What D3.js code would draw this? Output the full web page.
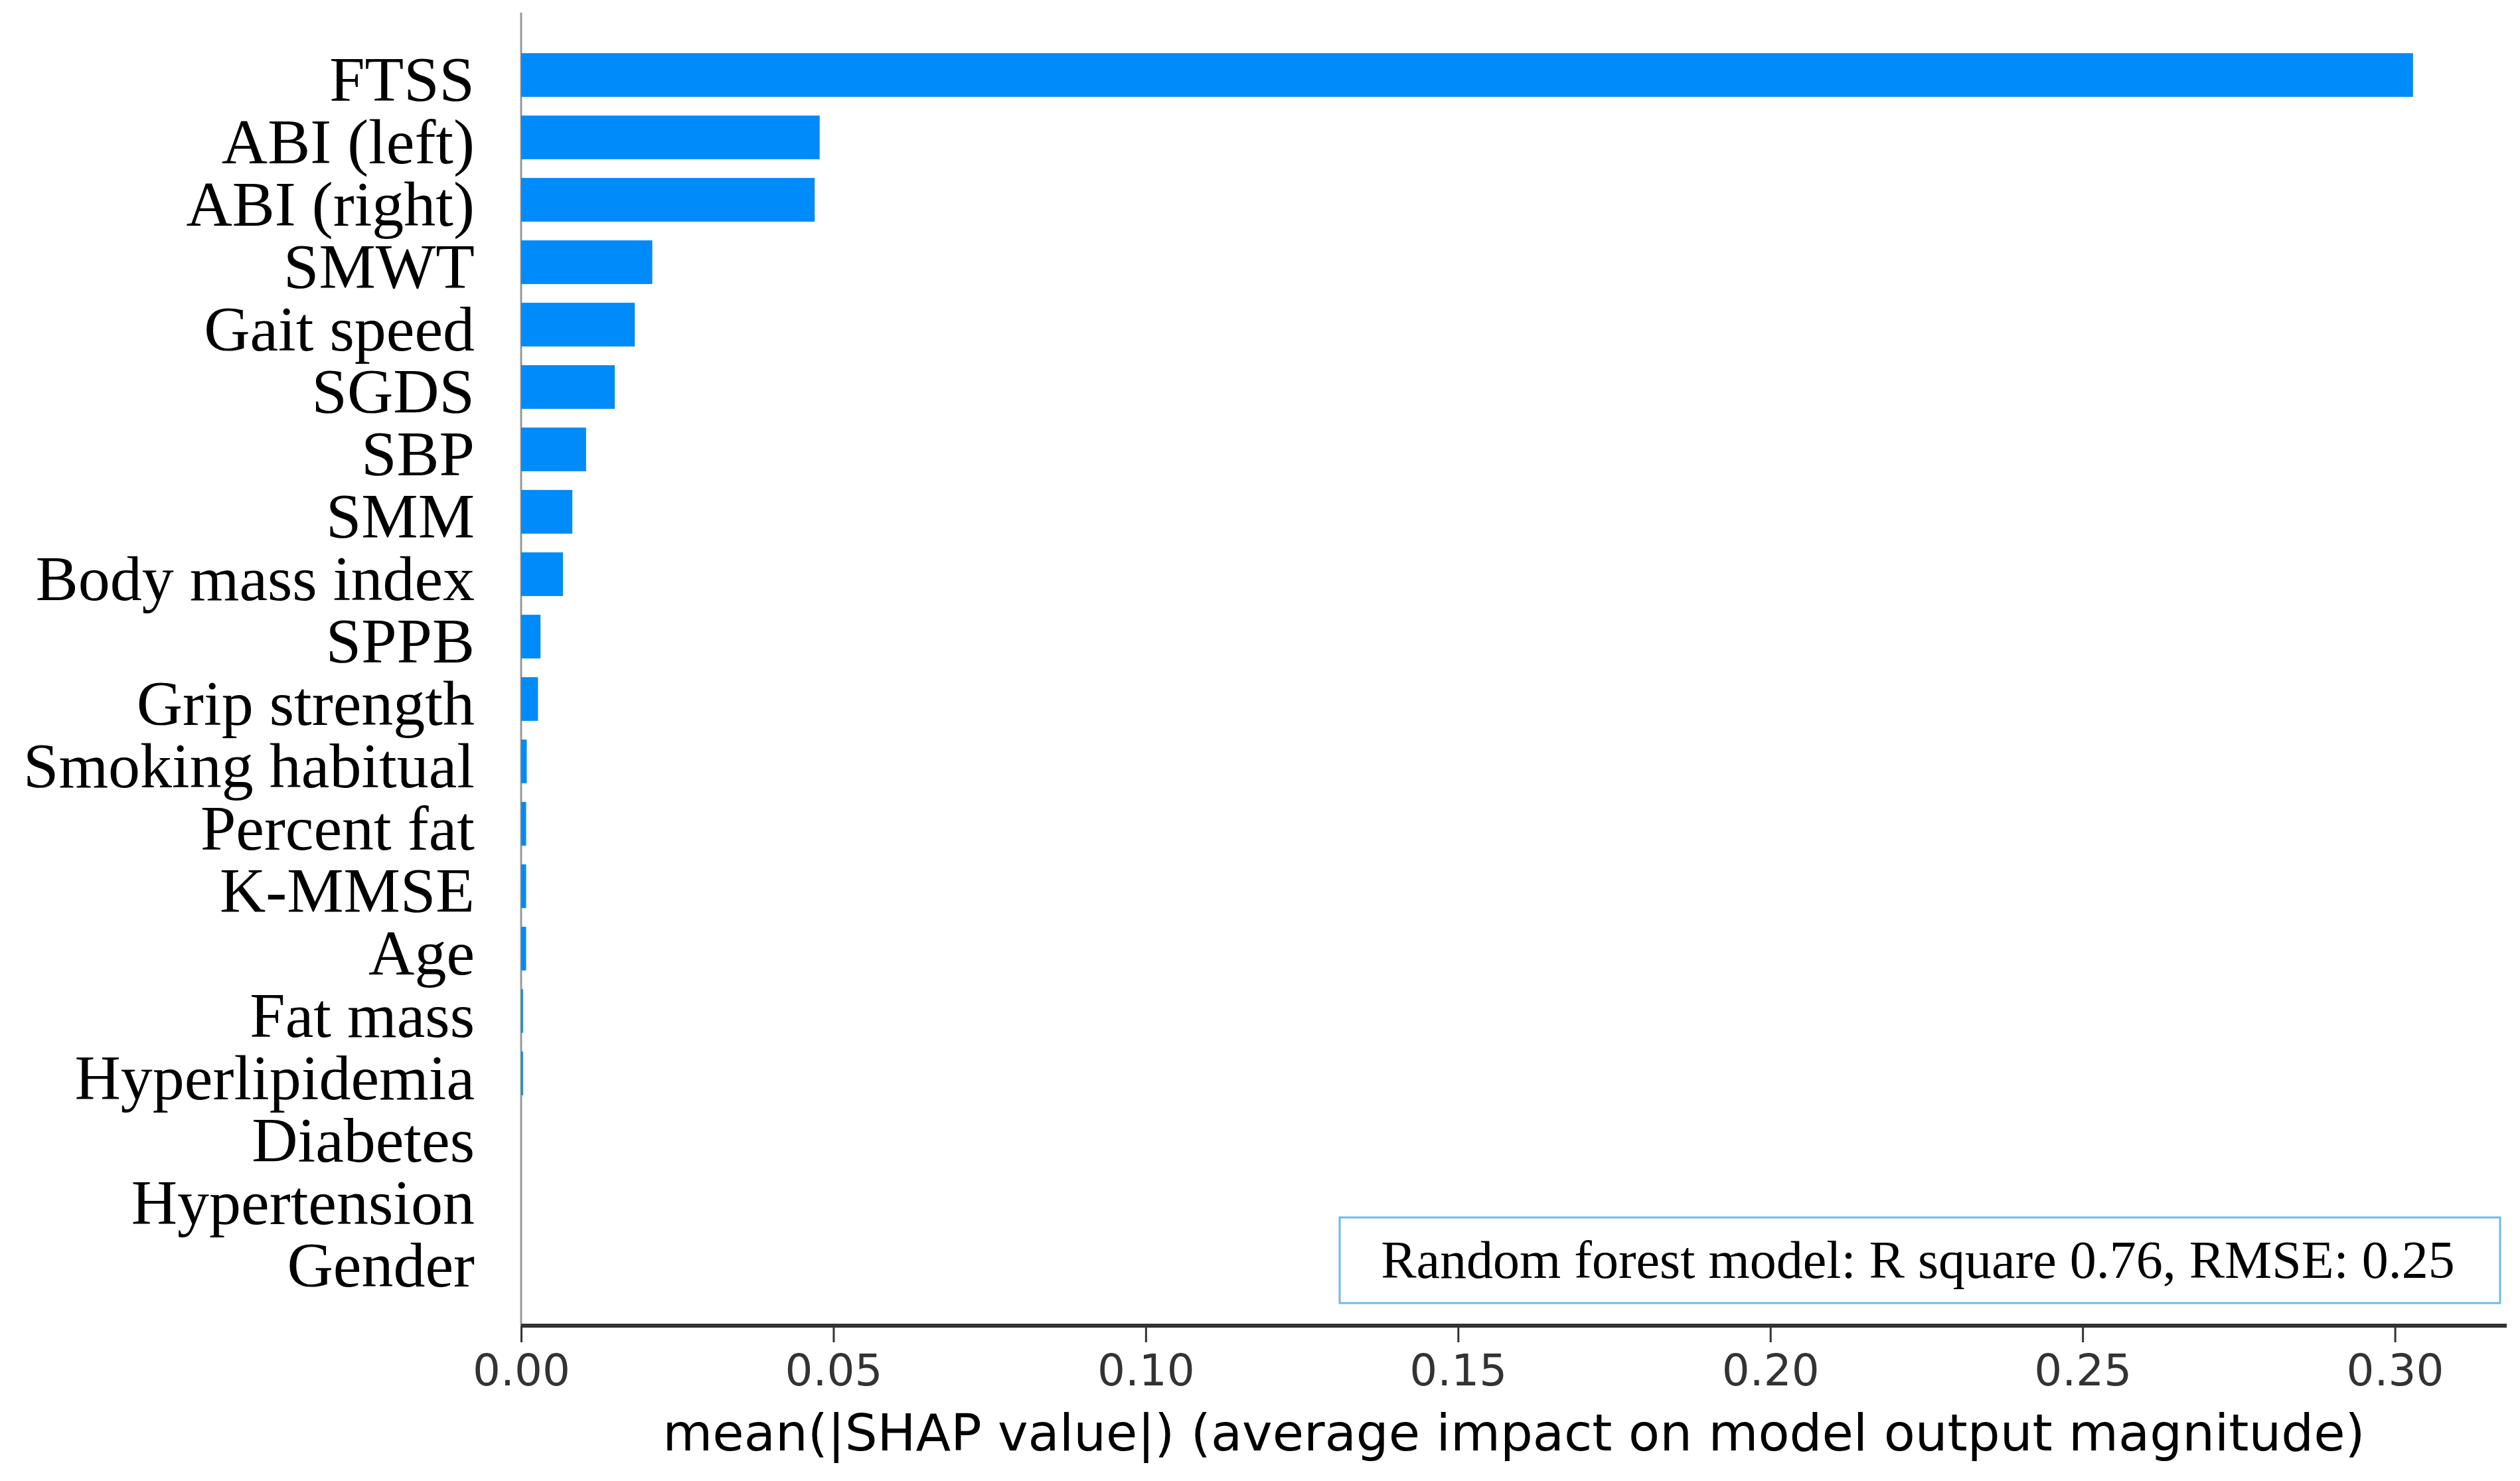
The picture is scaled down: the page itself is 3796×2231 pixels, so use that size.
<!DOCTYPE html>
<html><head><meta charset="utf-8">
<script src="https://cdn.jsdelivr.net/npm/d3@7"></script>
<style>body{margin:0;background:#fff}</style>
</head><body>
<svg id="c" width="3796" height="2231"></svg>
<script>
const categories = ["FTSS","ABI (left)","ABI (right)","SMWT","Gait speed","SGDS","SBP","SMM","Body mass index","SPPB","Grip strength","Smoking habitual","Percent fat","K-MMSE","Age","Fat mass","Hyperlipidemia","Diabetes","Hypertension","Gender"];
const values = [0.3029,0.0478,0.0470,0.0210,0.0182,0.0150,0.0104,0.0082,0.0067,0.0031,0.0027,0.0009,0.0008,0.0008,0.0008,0.0003,0.0003,0,0,0];
const xTicks = [0,0.05,0.10,0.15,0.20,0.25,0.30];
const xTitle = "mean(|SHAP value|) (average impact on model output magnitude)";
const noteText = "Random forest model: R square 0.76, RMSE: 0.25";

const svg = d3.select("#c");
const x = d3.scaleLinear().domain([0,0.3179]).range([785,3776]);
const y = d3.scaleBand().domain(categories).range([66,1946]).paddingInner(0.3).paddingOuter(0.15);
const axisY = 1997;

// left reference line
svg.append("line").attr("x1",x(0)).attr("x2",x(0)).attr("y1",19).attr("y2",axisY)
  .attr("stroke","#999").attr("stroke-width",3);

// bars
svg.append("g").selectAll("rect").data(categories).join("rect")
  .attr("x",x(0)).attr("y",d=>y(d))
  .attr("width",(d,i)=>x(values[i])-x(0))
  .attr("height",y.bandwidth())
  .attr("fill","#008bfb");

// y labels
svg.append("g").selectAll("text").data(categories).join("text")
  .attr("x",715).attr("y",d=>y(d)+y.bandwidth()/2+39)
  .attr("text-anchor","end")
  .attr("font-family","'Liberation Serif','Times New Roman',serif")
  .attr("font-size",96).attr("fill","#000")
  .text(d=>d);

// x axis
const xAxis = d3.axisBottom(x).tickValues(xTicks).tickFormat(d3.format(".2f")).tickSize(25).tickPadding(18);
const gx = svg.append("g").attr("transform",`translate(0,${axisY})`).call(xAxis);
gx.select(".domain").attr("stroke","#333").attr("stroke-width",6).attr("d",`M${x(0)},0H3776`);
gx.selectAll(".tick line").attr("stroke","#333").attr("stroke-width",3);
gx.selectAll(".tick text").attr("font-family","'DejaVu Sans',sans-serif").attr("font-size",66).attr("fill","#333");

// x title
svg.append("text").attr("x",(x(0)+3776)/2).attr("y",2185).attr("text-anchor","middle")
  .attr("font-family","'DejaVu Sans',sans-serif").attr("font-size",77).attr("fill","#000")
  .text(xTitle);

// note box
svg.append("rect").attr("x",2018).attr("y",1834).attr("width",1748).attr("height",129)
  .attr("fill","#fff").attr("stroke","#6cbbea").attr("stroke-width",3);
svg.append("text").attr("x",2889).attr("y",1925).attr("text-anchor","middle")
  .attr("font-family","'Liberation Serif','Times New Roman',serif").attr("font-size",80).attr("fill","#000")
  .text(noteText);
</script>
</body></html>
